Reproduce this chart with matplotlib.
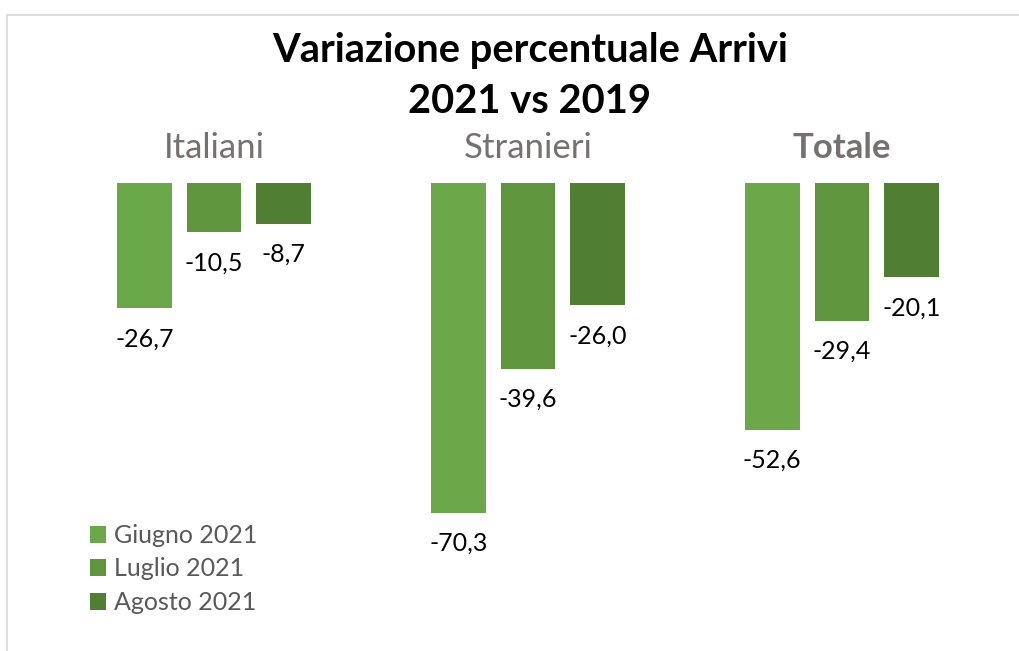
import matplotlib
matplotlib.use('Agg')
import matplotlib.pyplot as plt
import numpy as np
from matplotlib.patches import Rectangle

plt.rcParams['font.family'] = ['Lato', 'DejaVu Sans']

# data
categories = ['Italiani', 'Stranieri', 'Totale']
months = ['Giugno 2021', 'Luglio 2021', 'Agosto 2021']
giugno = [-26.7, -70.3, -52.6]
luglio = [-10.5, -39.6, -29.4]
agosto = [-8.7, -26.0, -20.1]
colors = ['#6AA84A', '#5E953D', '#507E33']

fig = plt.figure(figsize=(10.19, 6.51), dpi=100)

# light frame of the chart area (cropped on the right/bottom)
fig.patches.append(Rectangle((7 / 1019, -0.05), 1.1, (651 - 15) / 651 + 0.05,
                             transform=fig.transFigure, fill=False,
                             edgecolor='#D9D9D9', linewidth=1.2))

# axes: x=-0.5 -> px 57, x=2.5 -> px 999 ; y=0 -> px 183, y=-75 -> px 535
ax = fig.add_axes([57 / 1019, 1 - 535 / 651, (999 - 57) / 1019, (535 - 183) / 651])
ax.set_xlim(-0.5, 2.5)
ax.set_ylim(-75, 0)
ax.axis('off')

x = np.arange(len(categories))
width = 0.175
step = 0.222
series = [giugno, luglio, agosto]
for i, vals in enumerate(series):
    bars = ax.bar(x + (i - 1) * step, vals, width, color=colors[i], label=months[i])
    for b, v in zip(bars, vals):
        ax.annotate(f'{v:.1f}'.replace('.', ','),
                    (b.get_x() + b.get_width() / 2, v),
                    xytext=(0, -22), textcoords='offset points',
                    ha='center', va='center', fontsize=18, color='black')

# category headers
for xi, name in zip(x, categories):
    ax.annotate(name, (xi, 0), xytext=(0, 25), textcoords='offset points',
                ha='center', va='center', fontsize=25, color='#767171',
                fontweight='bold' if name == 'Totale' else 'normal')

fig.text(530 / 1019, 1 - 76 / 651, 'Variazione percentuale Arrivi\n2021 vs 2019',
         ha='center', va='center', fontsize=28.7, fontweight='bold',
         linespacing=1.45, color='black')

leg = fig.legend(loc='upper left', bbox_to_anchor=(80 / 1019, 1 - 514 / 651),
                 frameon=False, fontsize=18, handlelength=0.65, handleheight=0.65,
                 handletextpad=0.3, labelspacing=0.42, borderaxespad=0)
for t in leg.get_texts():
    t.set_color('#595959')

fig.savefig('out.png', dpi=100)
